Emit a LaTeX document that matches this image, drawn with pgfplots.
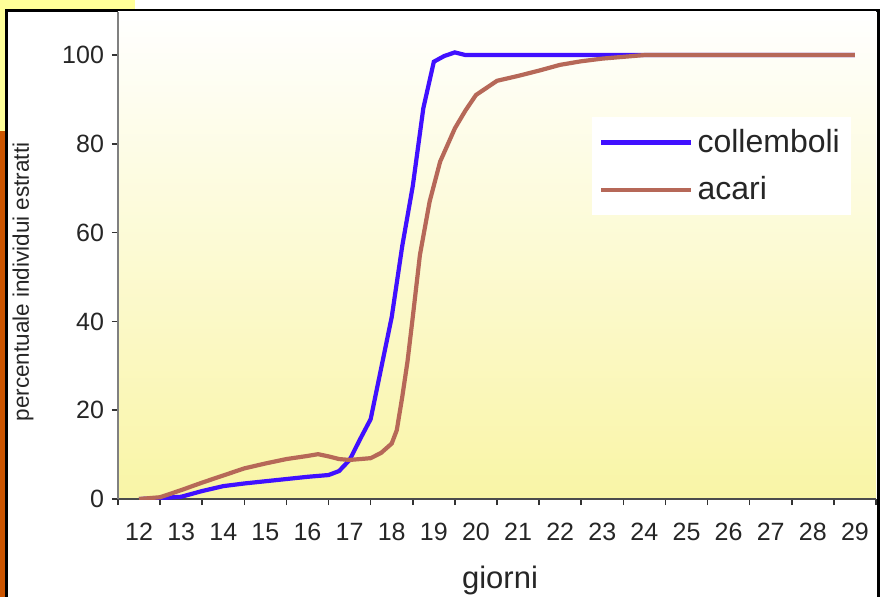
\documentclass[border=0pt]{standalone}
\usepackage{fontspec}
\setmainfont{Liberation Sans}
\usepackage{pgfplots}
\pgfplotsset{compat=1.18}

\definecolor{collblue}{RGB}{64,16,255}
\definecolor{acabrown}{RGB}{182,104,88}
\definecolor{bgyellow}{RGB}{249,245,166}
\definecolor{slideyellow}{RGB}{255,255,153}
\definecolor{slideorange}{RGB}{204,85,0}

\begin{document}
\begin{tikzpicture}[x=1pt,y=1pt]
% 1 px of the reference = 0.5pt
\clip (0,0) rectangle (440.5,298);
\fill[white] (0,0) rectangle (440.5,298);
\fill[slideyellow] (0,293) rectangle (67.5,298);
\fill[slideyellow] (0,232.5) rectangle (3,298);
\fill[slideorange] (0,-1) rectangle (3,232.5);
\draw[black, line width=1.3pt] (3.2,-5) -- (3.2,292.75) -- (439.25,292.75) -- (439.25,-5);

\begin{axis}[
  at={(59pt,48.5pt)}, anchor=south west,
  scale only axis, width=379pt, height=243.5pt,
  xmin=11.5, xmax=29.5, ymin=0, ymax=109.7,
  axis x line=bottom, axis y line=left,
  axis line style={-},
  x axis line style={draw=black!70, line width=1pt},
  y axis line style={draw=gray, line width=1pt},
  axis background/.style={shade, top color=white, bottom color=bgyellow},
  xtick={11.5,12.5,13.5,14.5,15.5,16.5,17.5,18.5,19.5,20.5,21.5,22.5,23.5,24.5,25.5,26.5,27.5,28.5,29.5},
  xticklabels={12,13,14,15,16,17,18,19,20,21,22,23,24,25,26,27,28,29},
  x tick label as interval,
  ytick={0,20,40,60,80,100},
  tick align=outside,
  major tick length=3pt,
  tick style={black!80, line width=0.8pt},
  ticklabel style={font=\fontsize{12.5}{14}\selectfont, text=black!85},
  /pgf/number format/assume math mode=true,
  xticklabel style={yshift=-5.5pt},
  yticklabel style={xshift=-0.5pt},
  xlabel={giorni},
  xlabel style={at={(axis description cs:0.504,0)}, yshift=-40.5pt, anchor=center,
    font=\fontsize{15.5}{18}\selectfont, text=black!85},
  ylabel={percentuale individui estratti},
  ylabel style={at={(axis description cs:-0.1253,0.4456)}, anchor=center,
    font=\fontsize{11.25}{13}\selectfont, text=black!85},
  legend style={at={(0.6253,0.7844)}, anchor=north west, draw=none, fill=white,
    font=\fontsize{16}{19}\selectfont, inner xsep=3.5pt, inner ysep=4pt,
    row sep=6.5pt, text=black!85},
  legend cell align=left,
  legend image code/.code={\draw[#1] (0pt,0pt) -- (45pt,0pt);},
]
\addplot[collblue, line width=2.1pt] coordinates {
  (12,0) (12.5,0.2) (13,0.5) (13.5,1.8) (14,2.9) (14.5,3.5) (15,4.0)
  (15.5,4.5) (16,5.0) (16.5,5.4) (16.75,6.3) (17,8.8) (17.25,13.5)
  (17.5,18) (17.75,29.5) (18,41) (18.25,57) (18.5,70.5) (18.75,88)
  (19,98.5) (19.25,99.8) (19.5,100.6) (19.75,100) (20,100) (29,100)
};
\addlegendentry{collemboli}
\addplot[acabrown, line width=2.1pt] coordinates {
  (12,0) (12.5,0.4) (13,2.0) (13.5,3.7) (14,5.3) (14.5,6.9) (15,8.0)
  (15.5,9.0) (16,9.7) (16.25,10.1) (16.5,9.6) (16.75,9.0) (17,8.8)
  (17.5,9.2) (17.75,10.4) (18,12.5) (18.12,15.5) (18.25,23) (18.375,31)
  (18.5,41) (18.67,55) (18.9,67) (19.15,76) (19.5,83.5) (19.75,87.5)
  (20,91) (20.5,94.2) (21,95.3) (21.5,96.5) (22,97.8) (22.5,98.6)
  (23,99.2) (23.5,99.6) (24,100) (29,100)
};
\addlegendentry{acari}
\end{axis}
\end{tikzpicture}
\end{document}
